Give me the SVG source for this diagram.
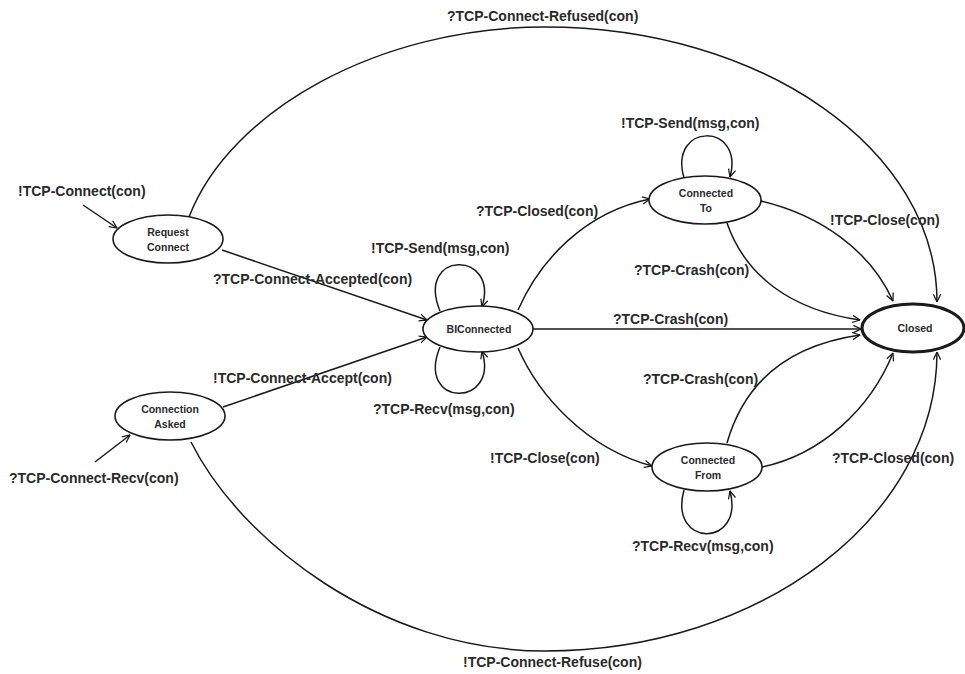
<svg xmlns="http://www.w3.org/2000/svg" width="965" height="674" viewBox="0 0 965 674">
  <style>
    .node { fill: #ffffff; stroke: #1a1a1a; stroke-width: 1.6; }
    .final { fill: #ffffff; stroke: #1a1a1a; stroke-width: 3; }
    .nlabel { font-family: "Liberation Sans", Arial, sans-serif; font-weight: bold; font-size: 10.5px; fill: #2a2a2a; text-anchor: middle; }
    .elabel { font-family: "Liberation Sans", Arial, sans-serif; font-weight: bold; font-size: 14px; fill: #2a2a2a; }
    .edge { fill: none; stroke: #1a1a1a; stroke-width: 1.5; marker-end: url(#arrow); }
  </style>
  <defs>
    <marker id="arrow" viewBox="0 0 10 10" refX="9.5" refY="5" markerWidth="9" markerHeight="9" markerUnits="userSpaceOnUse" orient="auto">
      <path d="M1,1 L9.5,5 L1,9" fill="none" stroke="#1a1a1a" stroke-width="1.4"/>
    </marker>
  </defs>
  <rect width="965" height="674" fill="#ffffff"/>

  <g id="connectors">
    <!-- initial transitions -->
    <line class="edge" x1="83" y1="205" x2="117" y2="228"/>
    <line class="edge" x1="95" y1="462" x2="130" y2="435"/>
    <!-- into BIConnected -->
    <line class="edge" x1="222" y1="250" x2="427" y2="320"/>
    <line class="edge" x1="223" y1="407" x2="427" y2="337"/>
    <!-- BIConnected self loops -->
    <path class="edge" d="M440,311 C415,250 500,250 482,307"/>
    <path class="edge" d="M440,347 C415,408 500,408 482,351"/>
    <!-- BIConnected outgoing -->
    <path class="edge" d="M518,310 C540,260 585,212 650,199"/>
    <line class="edge" x1="533" y1="329" x2="861" y2="329"/>
    <path class="edge" d="M518,348 C538,394 585,448 652,466"/>
    <!-- Connected To -->
    <path class="edge" d="M684,178 C668,122 745,122 730,177"/>
    <path class="edge" d="M761,201 C820,215 870,250 893,301"/>
    <path class="edge" d="M727,223 C745,275 790,310 860,320"/>
    <!-- Connected From -->
    <path class="edge" d="M684,490 C668,548 745,548 730,491"/>
    <path class="edge" d="M727,443 C745,380 790,345 860,335"/>
    <path class="edge" d="M762,467 C820,455 870,410 893,353"/>
    <!-- long arcs to Closed -->
    <path class="edge" d="M189,217 C230,110 380,27 545,27 C761,27 937,149 937,302"/>
    <path class="edge" d="M191,442 C240,540 380,651 545,651 C761,651 937,517 937,352"/>
  </g>

  <g id="request-connect">
    <ellipse class="node" cx="168" cy="239" rx="55" ry="24"/>
    <text class="nlabel" x="168" y="236">Request</text>
    <text class="nlabel" x="168" y="251">Connect</text>
  </g>
  <g id="connection-asked">
    <ellipse class="node" cx="170" cy="416" rx="55" ry="24"/>
    <text class="nlabel" x="170" y="413">Connection</text>
    <text class="nlabel" x="170" y="428">Asked</text>
  </g>
  <g id="biconnected">
    <ellipse class="node" cx="478" cy="329" rx="55" ry="23"/>
    <text class="nlabel" x="479" y="333">BIConnected</text>
  </g>
  <g id="connected-to">
    <ellipse class="node" cx="705" cy="200" rx="56" ry="24"/>
    <text class="nlabel" x="706" y="197">Connected</text>
    <text class="nlabel" x="706" y="212">To</text>
  </g>
  <g id="connected-from">
    <ellipse class="node" cx="707" cy="467" rx="55" ry="24"/>
    <text class="nlabel" x="708" y="464">Connected</text>
    <text class="nlabel" x="708" y="479">From</text>
  </g>
  <g id="closed">
    <ellipse class="final" cx="913" cy="328" rx="51" ry="24"/>
    <text class="nlabel" x="915" y="332">Closed</text>
  </g>

  <g id="labels">
    <text class="elabel" x="18" y="196">!TCP-Connect(con)</text>
    <text class="elabel" x="9" y="483">?TCP-Connect-Recv(con)</text>
    <text class="elabel" x="213" y="284">?TCP-Connect-Accepted(con)</text>
    <text class="elabel" x="213" y="383">!TCP-Connect-Accept(con)</text>
    <text class="elabel" x="371" y="253">!TCP-Send(msg,con)</text>
    <text class="elabel" x="373" y="414">?TCP-Recv(msg,con)</text>
    <text class="elabel" x="476" y="216">?TCP-Closed(con)</text>
    <text class="elabel" x="613" y="324">?TCP-Crash(con)</text>
    <text class="elabel" x="490" y="463">!TCP-Close(con)</text>
    <text class="elabel" x="621" y="128">!TCP-Send(msg,con)</text>
    <text class="elabel" x="830" y="225">!TCP-Close(con)</text>
    <text class="elabel" x="634" y="275">?TCP-Crash(con)</text>
    <text class="elabel" x="643" y="384">?TCP-Crash(con)</text>
    <text class="elabel" x="832" y="463">?TCP-Closed(con)</text>
    <text class="elabel" x="632" y="551">?TCP-Recv(msg,con)</text>
    <text class="elabel" x="447" y="21">?TCP-Connect-Refused(con)</text>
    <text class="elabel" x="463" y="667">!TCP-Connect-Refuse(con)</text>
  </g>
</svg>
